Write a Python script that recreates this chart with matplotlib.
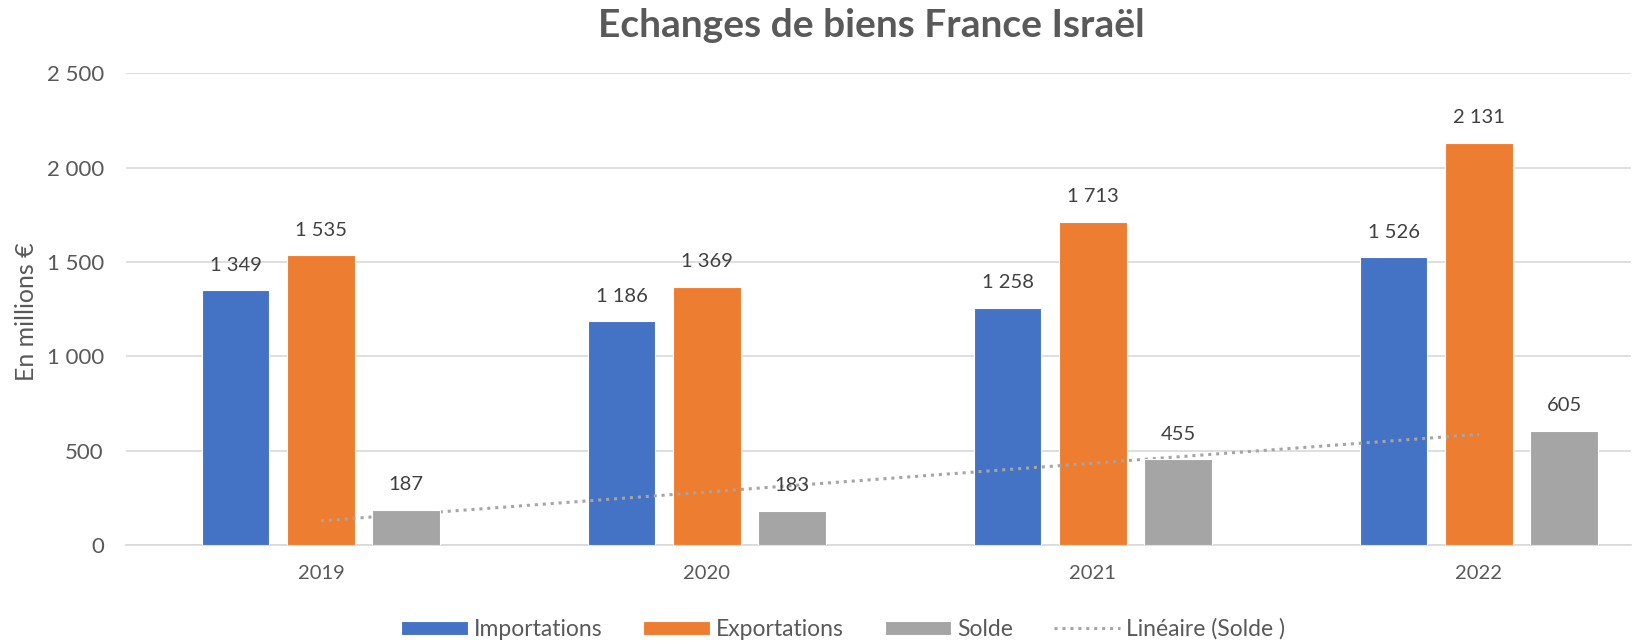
import numpy as np
import matplotlib.pyplot as plt
from matplotlib.ticker import FuncFormatter

plt.rcParams['font.family'] = ['Lato', 'DejaVu Sans']

# données (millions €)
years = ['2019', '2020', '2021', '2022']
importations = [1349, 1186, 1258, 1526]
exportations = [1535, 1369, 1713, 2131]
solde = [187, 183, 455, 605]

C_IMP = '#4472C4'
C_EXP = '#ED7D31'
C_SOL = '#A5A5A5'
TXT = '#595959'


def fmt(v, pos=None):
    return f'{int(v):,}'.replace(',', ' ')


fig = plt.figure(figsize=(16.5, 6.42), dpi=100)
ax = fig.add_axes([126 / 1650, 0.151, 1505 / 1650, 0.735])

x = np.arange(len(years))
w = 0.175
step = 0.221

# (valeurs, couleur, libellé, décalage, zorder) - la tendance passe sur
# importations/exportations mais sous le solde, comme dans Excel
series = [(importations, C_IMP, 'Importations', -step, 3),
          (exportations, C_EXP, 'Exportations', 0.0, 3),
          (solde, C_SOL, 'Solde', step, 5)]

handles = []
for vals, col, lab, off, z in series:
    bars = ax.bar(x + off, vals, w, color=col, label=lab, zorder=z,
                  edgecolor='white', linewidth=0.8)
    handles.append(bars)
    for b, v in zip(bars, vals):
        ax.annotate(fmt(v), (b.get_x() + b.get_width() / 2, v),
                    xytext=(0, 18), textcoords='offset points',
                    ha='center', va='center', fontsize=14.5, color='#404040',
                    zorder=6)

# courbe de tendance linéaire sur le solde
coef = np.polyfit(x, solde, 1)
trend, = ax.plot(x, np.polyval(coef, x), linestyle=(0, (1, 1.6)), color=C_SOL,
                 linewidth=2.2, zorder=4, label='Linéaire (Solde )')
handles.append(trend)

ax.set_xlim(-0.505, 3.394)
ax.set_ylim(0, 2500)
ax.set_yticks(np.arange(0, 2501, 500))
ax.yaxis.set_major_formatter(FuncFormatter(fmt))
ax.set_xticks(x)
ax.set_xticklabels(years)
ax.tick_params(axis='both', length=0, colors=TXT)
ax.tick_params(axis='x', pad=14, labelsize=14.5)
ax.tick_params(axis='y', pad=16, labelsize=16)
ax.grid(axis='y', color='#D9D9D9', linewidth=1.2, zorder=0)
ax.set_axisbelow(True)
for s in ['top', 'right', 'left']:
    ax.spines[s].set_visible(False)
ax.spines['bottom'].set_color('#D9D9D9')
ax.spines['bottom'].set_linewidth(1.2)

fig.text(27 / 1650, 0.514, 'En millions €', rotation=90, ha='center', va='center',
         fontsize=18, color=TXT)
fig.text(0.528, 0.96, 'Echanges de biens France Israël', ha='center', va='center',
         fontsize=28, fontweight='bold', color=TXT)

fig.legend(handles=handles, loc='center', bbox_to_anchor=(0.511, 0.02), ncol=4,
           frameon=False, fontsize=16.5, handlelength=2.9, handleheight=0.55,
           handletextpad=0.25, columnspacing=1.8, labelcolor=TXT)

fig.savefig('out.png', dpi=100)
